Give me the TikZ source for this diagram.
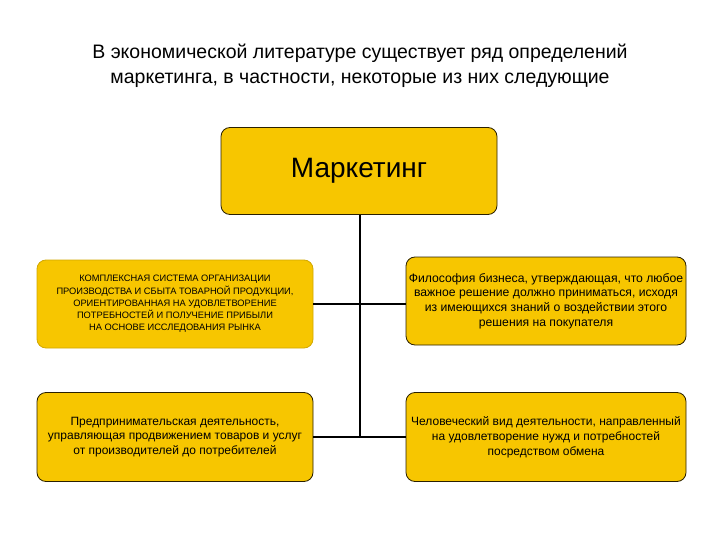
\documentclass[tikz,border=0pt]{standalone}
\usepackage{fontspec}
\setmainfont{Liberation Sans}
\definecolor{ylw}{HTML}{F7C600}
\definecolor{edge}{HTML}{2A2000}
\begin{document}
\begin{tikzpicture}[x=1pt,y=-1pt,
 box/.style={draw=edge,line width=0.8pt,fill=ylw,rounded corners=9pt,align=center,inner sep=0pt},
 conn/.style={line width=1.6pt,black}]
\useasboundingbox (0,0) rectangle (720,540);
\node[align=center,font=\fontsize{19.5}{25}\selectfont] (title) at (360,66)
 {В экономической литературе существует ряд определений\\маркетинга, в частности, некоторые из них следующие};
\node[box,minimum width=276pt,minimum height=87pt,font=\fontsize{28}{32}\selectfont] (m) at (359,171) {Маркетинг};
\node[box,draw=ylw!85!black,minimum width=276pt,minimum height=88pt,font=\fontsize{9.3}{12.3}\selectfont] (a) at (175,304)
 {КОМПЛЕКСНАЯ СИСТЕМА ОРГАНИЗАЦИИ\\ПРОИЗВОДСТВА И СБЫТА ТОВАРНОЙ ПРОДУКЦИИ,\\ОРИЕНТИРОВАННАЯ НА УДОВЛЕТВОРЕНИЕ\\ПОТРЕБНОСТЕЙ И ПОЛУЧЕНИЕ ПРИБЫЛИ\\НА ОСНОВЕ ИССЛЕДОВАНИЯ РЫНКА};
\node[box,minimum width=280pt,minimum height=88pt,font=\fontsize{12.2}{14.8}\selectfont] (b) at (546,301)
 {Философия бизнеса, утверждающая, что любое\\важное решение должно приниматься, исходя\\из имеющихся знаний о воздействии этого\\решения на покупателя};
\node[box,minimum width=276pt,minimum height=89pt,font=\fontsize{12}{14.8}\selectfont] (c) at (175,437)
 {Предпринимательская деятельность,\\управляющая продвижением товаров и услуг\\от производителей до потребителей};
\node[box,minimum width=280pt,minimum height=89pt,font=\fontsize{12}{14.8}\selectfont] (d) at (546,437)
 {Человеческий вид деятельности, направленный\\на удовлетворение нужд и потребностей\\посредством обмена};
\coordinate (bot) at (360,437);
\draw[conn] (m.south -| bot) -- (bot);
\draw[conn] (a.east) -- (b.west |- a.east);
\draw[conn] (c.east) -- (d.west);
\end{tikzpicture}
\end{document}
